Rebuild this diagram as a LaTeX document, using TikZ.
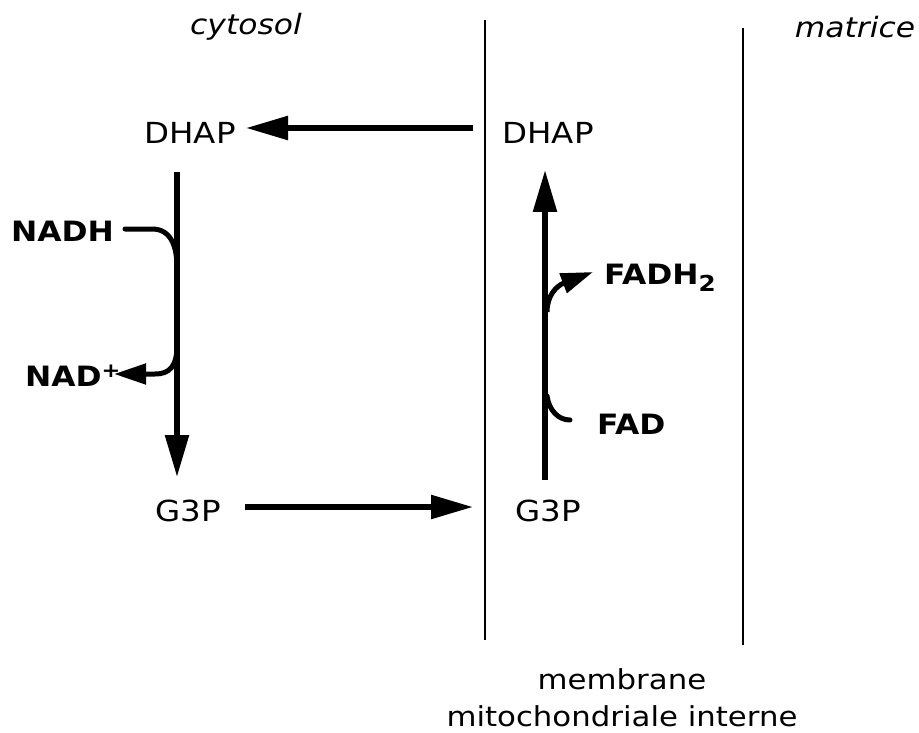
\documentclass[tikz,border=0pt]{standalone}
\usepackage{fontspec}
\setmainfont{DejaVu Sans}[FakeStretch=1.12]
\usetikzlibrary{arrows.meta}
\begin{document}
\begin{tikzpicture}[x=1pt,y=-1pt,
  lbl/.style={font=\fontsize{29}{37}\selectfont, inner sep=0pt},
  blbl/.style={font=\fontsize{28}{30}\selectfont\bfseries, inner sep=0pt},
  ilbl/.style={font=\fontsize{28}{30}\selectfont\itshape, inner sep=0pt},
  memb/.style={line width=2.4pt},
  flow/.style={line width=5.5pt, -{Triangle[length=42pt,width=23pt]}},
  side/.style={line width=5pt, line cap=round},
  sidearr/.style={line width=5pt, -{Triangle[length=32pt,width=20pt]}}]
\useasboundingbox (0,0) rectangle (919,733);
% membranes
\coordinate (m1t) at (485,20); \coordinate (m1b) at (485,640);
\coordinate (m2t) at (743,28); \coordinate (m2b) at (743,645);
\draw[memb] (m1t) -- (m1b);
\draw[memb] (m2t) -- (m2b);
% titles
\node[ilbl] (cyt) at (246,27) {cytosol};
\node[ilbl] (mat) at (855,27) {matrice};
\node[lbl, font=\fontsize{27.5}{37}\selectfont, align=center] (mem) at (622,698) {membrane\\mitochondriale interne};
% metabolites
\node[lbl] (dhapL) at (190,133) {DHAP};
\node[lbl] (dhapR) at (548,133) {DHAP};
\node[lbl] (g3pL) at (188,511) {G3P};
\node[lbl] (g3pR) at (548,511) {G3P};
\node[blbl, anchor=west] (nadh) at (11,231) {NADH};
\node[blbl, anchor=west] (nad) at (25,376) {NAD\raisebox{9pt}{\fontsize{20}{20}\selectfont\bfseries +}};
\node[blbl, anchor=west] (fadh) at (604,278) {FADH\raisebox{-7pt}{\fontsize{22}{22}\selectfont\bfseries 2}};
\node[blbl, anchor=west] (fad) at (597,424) {FAD};
% main flows
\coordinate (aTop) at (473,128); \coordinate (aTopEnd) at (246,128);
\draw[flow] (aTop) -- (aTopEnd);
\coordinate (vL1) at (177,172); \coordinate (vL2) at (177,477);
\draw[flow] (vL1) -- (vL2);
\coordinate (hB1) at (245,507); \coordinate (hB2) at (473,507);
\draw[flow] (hB1) -- (hB2);
\coordinate (vR1) at (545,480); \coordinate (vR2) at (545,170);
\draw[flow] (vR1) -- (vR2);
% side reactions
\coordinate (n1) at (125,229);
\coordinate (n2) at (177,268);
\coordinate (n3) at (177,345);
\coordinate (n4) at (114,374);
\draw[side] (n1) -- (152,229) .. controls (172,229) and (177,248) .. (n2);
\draw[sidearr] (n3) .. controls (177,366) and (170,374) .. (155,374) -- (n4);
\coordinate (f1) at (547,312);
\coordinate (f2) at (593,272);
\draw[sidearr] (f1) .. controls (547,296) and (556,286) .. (f2);
\coordinate (g1) at (547,396);
\coordinate (g2) at (570,420);
\draw[side] (g1) .. controls (549,410) and (558,420) .. (g2);
\end{tikzpicture}
\end{document}
